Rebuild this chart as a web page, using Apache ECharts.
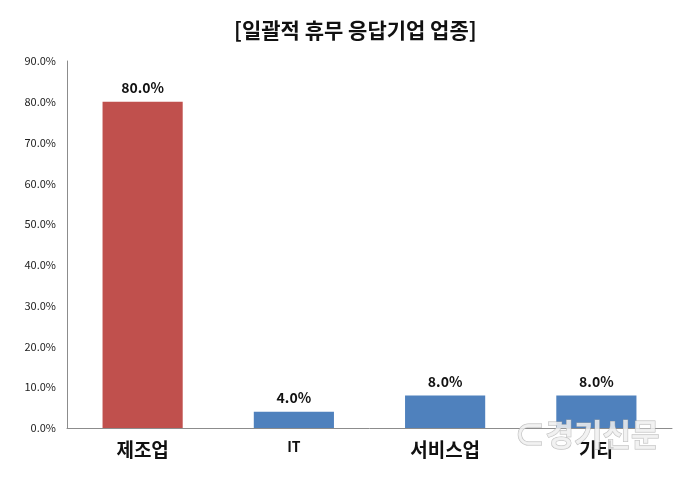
<!DOCTYPE html>
<html><head><meta charset="utf-8">
<script src="https://cdn.jsdelivr.net/npm/echarts@6/dist/echarts.min.js"></script>
<style>html,body{margin:0;padding:0;background:#fff}#c{width:680px;height:479px}</style>
</head><body><div id="c"></div>
<script>
const categories = ['제조업', 'IT', '서비스업', '기타'];
const values = [80.0, 4.0, 8.0, 8.0];
const barColors = ['#C0504D', '#4F81BD', '#4F81BD', '#4F81BD'];
const titleText = '[일괄적 휴무 응답기업 업종]';
const font = '"Noto Sans CJK KR", "Malgun Gothic", sans-serif';
const chart = echarts.init(document.getElementById('c'));
chart.setOption({
  animation: false,
  title: { text: titleText, left: 229, top: 15, textStyle: { fontFamily: font, fontSize: 21, fontWeight: 'bold', color: '#111' } },
  grid: { left: 67, right: 8, top: 61, bottom: 51 },
  xAxis: {
    type: 'category', data: categories,
    axisLine: { lineStyle: { color: '#8c8c8c' } },
    axisTick: { show: false },
    axisLabel: { margin: 12, fontFamily: font, fontSize: 19, fontWeight: 'bold', color: '#111',
      formatter: v => v === 'IT' ? '{s|IT}' : v, rich: { s: { fontSize: 14, fontWeight: 'bold', fontFamily: font, color: '#111' } } }
  },
  yAxis: {
    type: 'value', min: 0, max: 90, interval: 10,
    axisLine: { show: true, lineStyle: { color: '#8c8c8c' } },
    axisTick: { show: false },
    splitLine: { show: false },
    axisLabel: { margin: 11, fontFamily: font, fontSize: 11, color: '#222', formatter: v => v.toFixed(1) + '%' }
  },
  series: [{
    type: 'bar', barWidth: '53%',
    data: values.map((v, i) => ({ value: v, itemStyle: { color: barColors[i] } })),
    label: { show: true, position: 'top', distance: 7, fontFamily: font, fontSize: 14, fontWeight: 'bold', color: '#111', formatter: p => p.value.toFixed(1) + '%' }
  }],
  graphic: [{ type: 'text', left: 514, top: 418, style: { text: '⊂경기신문', fontFamily: font, fontSize: 31, fontWeight: 'bold', fill: 'rgba(240,240,240,0.85)', stroke: 'rgba(170,170,170,0.8)', lineWidth: 1 }, z: 100 }]
});
</script></body></html>
